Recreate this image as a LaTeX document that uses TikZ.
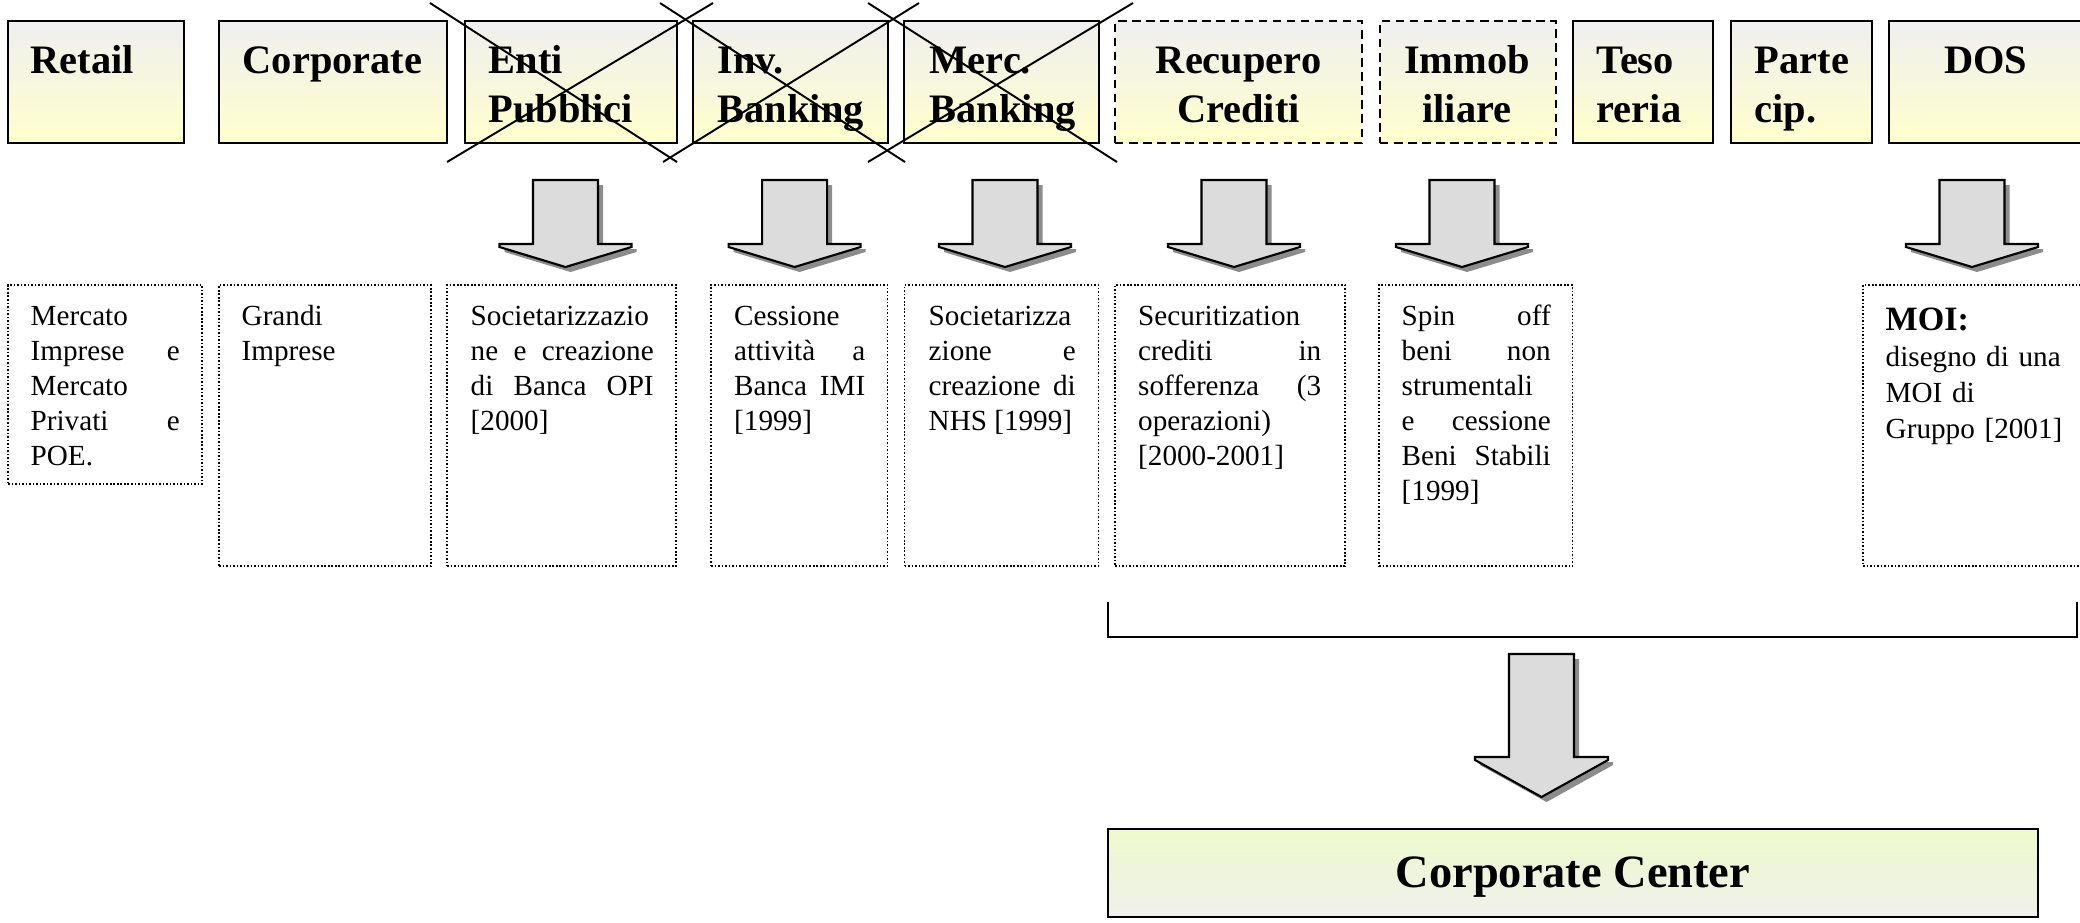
\documentclass[tikz,border=0pt]{standalone}
\usepackage{fontspec}
\setmainfont{Liberation Serif}
\usetikzlibrary{fit}
\hyphenpenalty=10000
\exhyphenpenalty=10000
\tolerance=10000
\hbadness=10000
\definecolor{boxtop}{RGB}{239,239,239}
\definecolor{boxbot}{RGB}{255,255,204}
\definecolor{cctop}{RGB}{236,250,204}
\definecolor{ccbot}{RGB}{240,240,236}
\definecolor{arrowfill}{RGB}{220,220,220}
\definecolor{shadowgray}{RGB}{140,140,140}
\newcommand\fls[1]{\rule{0pt}{#1}}
\tikzset{
 topbox/.style={rectangle, draw=black, line width=0.6pt, top color=boxtop, bottom color=boxbot, inner sep=0pt},
 topdashed/.style={topbox, dash pattern=on 2.4pt off 1.6pt},
 dotbox/.style={rectangle, draw=black, line width=0.35pt, dash pattern=on 0.45pt off 0.55pt, inner sep=0pt},
 ccbox/.style={rectangle, draw=black, line width=0.6pt, top color=cctop, bottom color=ccbot, inner sep=0pt},
 title/.style={font=\fontsize{11.5pt}{13.94pt}\selectfont\bfseries, inner sep=0pt, anchor=north west, align=left},
 body/.style={font=\fontsize{8.3pt}{9.96pt}\selectfont, inner sep=0pt, anchor=north west, align=justify},
 crossline/.style={line width=0.55pt},
 blockarrow/.style={draw=black, line width=0.6pt, fill=arrowfill, line join=miter},
 arrowshadow/.style={fill=shadowgray, draw=none},
 bracketline/.style={line width=0.8pt},
}
\newcommand\blockarrow[6]{%
 \begin{scope}[shift={(#2,#3)}]
  \coordinate (#1) at (0,0);
  \path[arrowshadow] (-27.5,5) -- (37.5,5) -- (37.5,#4+5) -- (#6+5,#4+5) -- (#6+5,#4+8) -- (5,#5+5) -- (-#6+5,#4+8) -- (-#6+5,#4+5) -- (-27.5,#4+5) -- cycle;
  \path[blockarrow] (-32.5,0) -- (32.5,0) -- (32.5,#4) -- (#6,#4) -- (#6,#4+3) -- (0,#5) -- (-#6,#4+3) -- (-#6,#4) -- (-32.5,#4) -- cycle;
 \end{scope}}
\begin{document}
\begin{tikzpicture}[x=0.1mm,y=-0.1mm]
\useasboundingbox (0,0) rectangle (2080,922);

% top row boxes
\node[topbox, fit={(8,21) (184,143)}] (retail) {};
\node[topbox, fit={(219,21) (447,143)}] (corporate) {};
\node[topbox, fit={(465,21) (677,143)}] (enti) {};
\node[topbox, fit={(693,21) (888,143)}] (inv) {};
\node[topbox, fit={(904,21) (1099,143)}] (merc) {};
\node[topdashed, fit={(1115,21) (1362,143)}] (recupero) {};
\node[topdashed, fit={(1380,21) (1556,143)}] (immob) {};
\node[topbox, fit={(1573,21) (1713,143)}] (teso) {};
\node[topbox, fit={(1731,21) (1872,143)}] (parte) {};
\node[topbox, fit={(1889,21) (2095,143)}] (dos) {};

% titles
\node[title] (tRetail) at (30,34.3) {\fls{11pt}Retail};
\node[title] (tCorporate) at (242,34.3) {\fls{11pt}Corporate};
\node[title] (tEnti) at (488,34.3) {\fls{11pt}Enti\\Pubblici};
\node[title] (tInv) at (717,34.3) {\fls{11pt}Inv.\\Banking};
\node[title] (tMerc) at (929,34.3) {\fls{11pt}Merc.\\Banking};
\node[title, anchor=north, align=center] (tRecupero) at (1238.5,34.3) {\fls{11pt}Recupero\\Crediti};
\node[title, anchor=north, align=center] (tImmob) at (1467,34.3) {\fls{11pt}Immob\\iliare};
\node[title] (tTeso) at (1596,34.3) {\fls{11pt}Teso\\reria};
\node[title] (tParte) at (1754,34.3) {\fls{11pt}Parte\\cip.};
\node[title, anchor=north] (tDos) at (1985.6,34.3) {\fls{11pt}DOS};

% block arrows
\blockarrow{aEnti}{565.5}{180}{64}{87}{66}
\blockarrow{aInv}{794.6}{180}{64}{87}{66}
\blockarrow{aMerc}{1005}{180}{64}{87}{66}
\blockarrow{aRec}{1234}{180}{64}{87}{66}
\blockarrow{aImm}{1462}{180}{64}{87}{66}
\blockarrow{aDos}{1972}{180}{64}{87}{66}

% dotted boxes
\node[dotbox, fit={(8,285) (202,484)}] (dMercato) {};
\node[dotbox, fit={(219,285) (431,566)}] (dGrandi) {};
\node[dotbox, fit={(447,285) (676,566)}] (dSocie) {};
\node[dotbox, fit={(711,285) (887.5,566)}] (dCessione) {};
\node[dotbox, fit={(904.5,285) (1098.7,566)}] (dNhs) {};
\node[dotbox, fit={(1115,285) (1345,566)}] (dSecur) {};
\node[dotbox, fit={(1379,285) (1572.5,566)}] (dSpin) {};
\node[dotbox, fit={(1863,285) (2095,566)}] (dMoi) {};

% dotted box texts
\node[body, text width=14.9mm] (xMercato) at (30,297) {\fls{8pt}Mercato\linebreak Imprese e\linebreak Mercato\linebreak Privati e\linebreak POE.};
\node[body, text width=16.7mm, align=left] (xGrandi) at (241,297) {\fls{8pt}Grandi\\Imprese};
\node[body, text width=18.3mm] (xSocie) at (470,297) {\fls{8pt}Societarizzazio\linebreak ne e creazione\linebreak di Banca OPI\linebreak{}[2000]};
\node[body, text width=13.1mm] (xCessione) at (733.5,297) {\fls{8pt}Cessione\linebreak attività a\linebreak Banca IMI\linebreak{}[1999]};
\node[body, text width=14.7mm] (xNhs) at (928,297) {\fls{8pt}Societarizza\linebreak zione e\linebreak creazione di\linebreak NHS [1999]};
\node[body, text width=18.3mm] (xSecur) at (1137.5,297) {\fls{8pt}Securitization\linebreak crediti in\linebreak sofferenza (3\linebreak operazioni)\linebreak{}[2000-2001]};
\node[body, text width=14.9mm] (xSpin) at (1401,297) {\fls{8pt}Spin off\linebreak beni non\linebreak strumentali\linebreak e cessione\linebreak Beni Stabili\linebreak{}[1999]};
\node[body, text width=18mm, align=left, font=\fontsize{8.3pt}{10.2pt}\selectfont] (xMoi) at (1885,294.9) {\fls{10pt}{\fontsize{9.7pt}{10.2pt}\selectfont\bfseries MOI:}\\disegno di una\\MOI di\\Gruppo [2001]};

% crossing lines
\draw[crossline] (430,3) -- (677,162);
\draw[crossline] (447,162) -- (713,3);
\draw[crossline] (660,3) -- (905,162);
\draw[crossline] (663,162) -- (919,3);
\draw[crossline] (868,3) -- (1117,162);
\draw[crossline] (868,162) -- (1133,3);

% bracket
\coordinate (brL) at (1108,602);
\coordinate (brR) at (2077,602);
\draw[bracketline] (brL) -- ++(0,35) -| (brR);

% big arrow
\blockarrow{aCC}{1541.5}{654}{103}{143}{66.5}

% corporate center
\node[ccbox, fit={(1108,829) (2038,917)}] (cc) {};
\node[font=\fontsize{13.2pt}{15pt}\selectfont\bfseries, anchor=base, inner sep=0pt] (tCC) at (1573,887) {Corporate Center};
\end{tikzpicture}
\end{document}
